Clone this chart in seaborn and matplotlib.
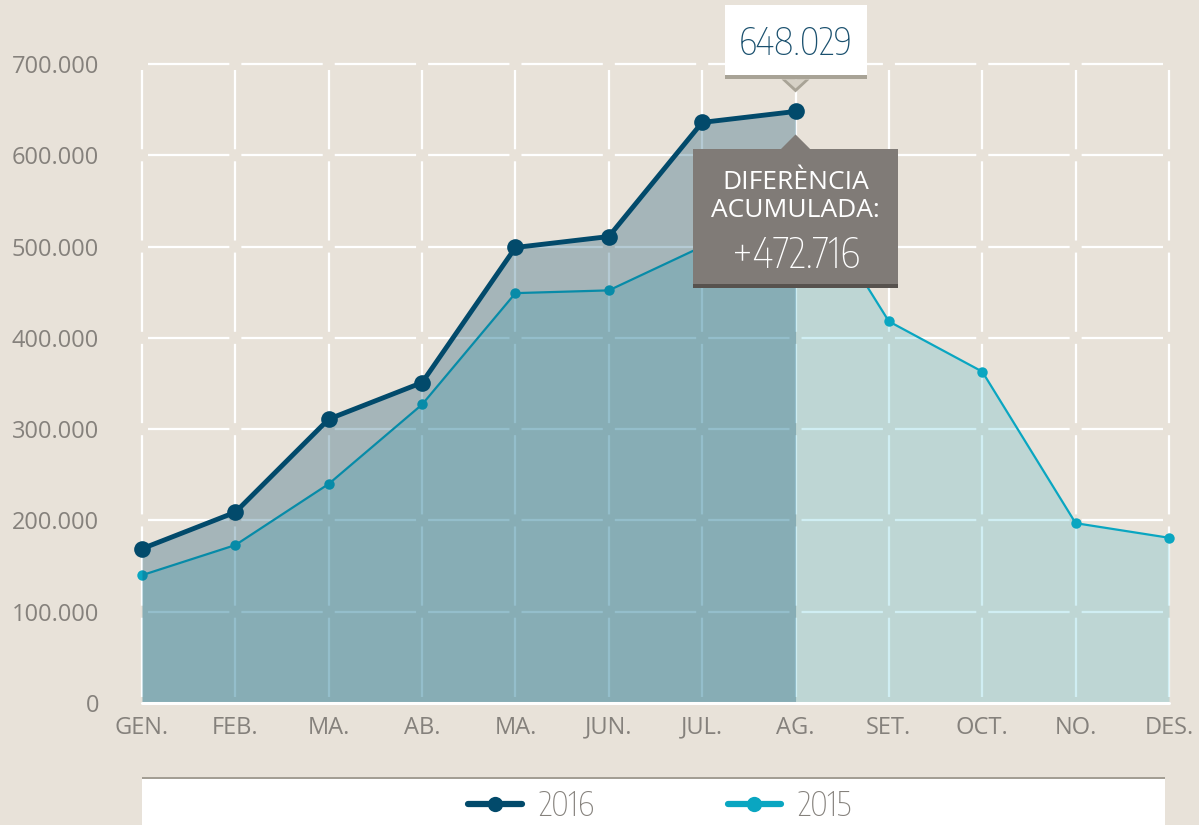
import numpy as np
import pandas as pd
import seaborn as sns
import matplotlib.pyplot as plt
from matplotlib import font_manager
from matplotlib.patches import Rectangle, Polygon
from matplotlib.lines import Line2D
from matplotlib.transforms import IdentityTransform

# Data
months = ["GEN.", "FEB.", "MA.", "AB.", "MA.", "JUN.", "JUL.", "AG.", "SET.", "OCT.", "NO.", "DES."]
visits_2016 = [169000, 209000, 311000, 351000, 499000, 511000, 636000, 648029]
visits_2015 = [140000, 173000, 240000, 327000, 449000, 452000, 500000, 582000, 418000, 363000, 197000, 181000]
y_ticks = [0, 100000, 200000, 300000, 400000, 500000, 600000, 700000]
series_names = ["2016", "2015"]
peak_label = "648.029"
diff_title = ["DIFERÈNCIA", "ACUMULADA:"]
diff_label = "+472.716"

# Colours
bg = "#e8e2d9"
c16 = "#024a6b"
c15 = "#0aa6c1"
grey_txt = "#85817c"

sns.set_theme(style="white")
plt.rcParams["font.family"] = ["Open Sans", "DejaVu Sans"]
plt.rcParams["lines.scale_dashes"] = False


def weight_num(w):
    if isinstance(w, str):
        return font_manager.weight_dict.get(w, 400)
    return int(w)


def pick_narrow():
    # light/regular condensed face if there is one, else a light face
    fonts = font_manager.fontManager.ttflist
    cands = [f for f in fonts
             if ("Condensed" in f.name or "Narrow" in f.name or "condensed" in str(f.stretch))
             and weight_num(f.weight) < 600]
    if cands:
        f = min(cands, key=lambda f: weight_num(f.weight))
        return dict(family=[f.name, "DejaVu Sans"], weight=weight_num(f.weight),
                    stretch=f.stretch)
    for name in ["Roboto", "Open Sans", "Lato"]:
        lights = [f for f in fonts if f.name == name and weight_num(f.weight) <= 300]
        if lights:
            f = max(lights, key=lambda f: weight_num(f.weight))
            return dict(family=[f.name, "DejaVu Sans"], weight=weight_num(f.weight))
    return dict(family=["DejaVu Sans"], stretch="condensed")


narrow = pick_narrow()

df16 = pd.DataFrame({"mes": np.arange(len(visits_2016)), "valor": visits_2016})
df15 = pd.DataFrame({"mes": np.arange(len(visits_2015)), "valor": visits_2015})

W, H = 1199, 825
fig = plt.figure(figsize=(W / 100, H / 100), dpi=100, facecolor=bg)
ax = fig.add_axes([142 / W, (H - 703) / H, (1169 - 142) / W, (703 - 64) / H])
ax.set_facecolor("none")
ax.set_xlim(0, len(months) - 1)
ax.set_ylim(0, y_ticks[-1])
for s in ax.spines.values():
    s.set_visible(False)

# dashed white grid with gaps at the crossings
pt = 72 / fig.dpi
xstep = ax.bbox.width / (len(months) - 1)
ystep = ax.bbox.height / (len(y_ticks) - 1)
gap = 12
for v in y_ticks[1:]:
    on, off = (xstep - gap) * pt, gap * pt
    ax.axhline(v, color="white", lw=1.6, zorder=1, clip_on=False,
               linestyle=(on + off / 2, (on, off)))
for i in range(len(months)):
    on, off = (ystep - gap) * pt, gap * pt
    ax.axvline(i, color="white", lw=1.6, zorder=1, clip_on=False,
               linestyle=(on + off / 2, (on, off)))

# areas and lines
ax.fill_between(df15["mes"], 0, df15["valor"], color=c15, alpha=0.19, lw=0, zorder=2)
sns.lineplot(data=df15, x="mes", y="valor", color=c15, lw=1.6, marker="o",
             markersize=7.5, markeredgewidth=0, zorder=3, ax=ax, clip_on=False)
ax.fill_between(df16["mes"], 0, df16["valor"], color=c16, alpha=0.29, lw=0, zorder=4)
sns.lineplot(data=df16, x="mes", y="valor", color=c16, lw=3.5, marker="o",
             markersize=12, markeredgewidth=0, zorder=5, ax=ax, clip_on=False)
ax.axhline(0, color="white", lw=2.2, zorder=6, clip_on=False)

ax.set_xticks(range(len(months)))
ax.set_xticklabels(months)
ax.set_yticks(y_ticks)
ax.set_yticklabels([f"{v:,}".replace(",", ".") for v in y_ticks])
ax.tick_params(axis="x", length=0, pad=9, labelsize=17, labelcolor=grey_txt)
ax.tick_params(axis="y", length=0, pad=31, labelsize=17, labelcolor=grey_txt)
ax.set_xlabel("")
ax.set_ylabel("")
if ax.get_legend():
    ax.get_legend().remove()

renderer = fig.canvas.get_renderer()


def fit_text(t, width_px, max_size):
    # shrink a text until it is no wider than in the reference
    t.set_fontsize(max_size)
    w = t.get_window_extent(renderer).width
    if w > width_px:
        t.set_fontsize(max_size * width_px / w)


# annotation boxes anchored on the last 2016 point
px, py = ax.transData.transform((df16["mes"].iloc[-1], df16["valor"].iloc[-1]))
idt = IdentityTransform()

fig.add_artist(Rectangle((px - 71, py + 36), 142, 70, facecolor="white", lw=0, transform=idt))
fig.add_artist(Rectangle((px - 71, py + 32), 142, 4, facecolor="#a8a396", lw=0, transform=idt))
fig.add_artist(Polygon([(px - 14, py + 32), (px + 14, py + 32), (px, py + 19)],
                       facecolor="#a8a396", lw=0, transform=idt))
fig.add_artist(Polygon([(px - 10, py + 32), (px + 10, py + 32), (px, py + 23)],
                       facecolor="#d6d1c6", lw=0, transform=idt))
t1 = fig.text(px / W, (py + 70) / H, peak_label, ha="center", va="center",
              color="#1a506e", **narrow)
fit_text(t1, 114, 31)

fig.add_artist(Rectangle((px - 103, py - 173), 205, 135, facecolor="#807b77", lw=0, transform=idt))
fig.add_artist(Rectangle((px - 103, py - 177), 205, 4, facecolor="#57524e", lw=0, transform=idt))
fig.add_artist(Polygon([(px - 15, py - 38), (px + 15, py - 38), (px, py - 23)],
                       facecolor="#807b77", lw=0, transform=idt))
fig.text(px / W, (py - 71) / H, diff_title[0], ha="center", va="center",
         fontsize=19, color="white")
fig.text(px / W, (py - 99) / H, diff_title[1], ha="center", va="center",
         fontsize=19, color="white")
t2 = fig.text(px / W, (py - 141) / H, diff_label, ha="center", va="center",
              color="white", **narrow)
fit_text(t2, 128, 31)

# legend strip
fig.add_artist(Rectangle((142, 0), 1023, 47, facecolor="white", lw=0, transform=idt))
fig.add_artist(Rectangle((142, 46), 1023, 2, facecolor="#a39e94", lw=0, transform=idt))
handles = [Line2D([], [], color=c16, lw=4.5, marker="o", markersize=11, markeredgewidth=0),
           Line2D([], [], color=c15, lw=4.5, marker="o", markersize=11, markeredgewidth=0)]
leg = fig.legend(handles, series_names, loc="center", bbox_to_anchor=(660 / W, 22 / H),
                 ncol=2, frameon=False, handlelength=1.6, handletextpad=0.5,
                 columnspacing=4.0, prop=dict(size=24, **narrow))
for t in leg.get_texts():
    t.set_color(grey_txt)

fig.savefig("out.png", dpi=100, facecolor=bg)
